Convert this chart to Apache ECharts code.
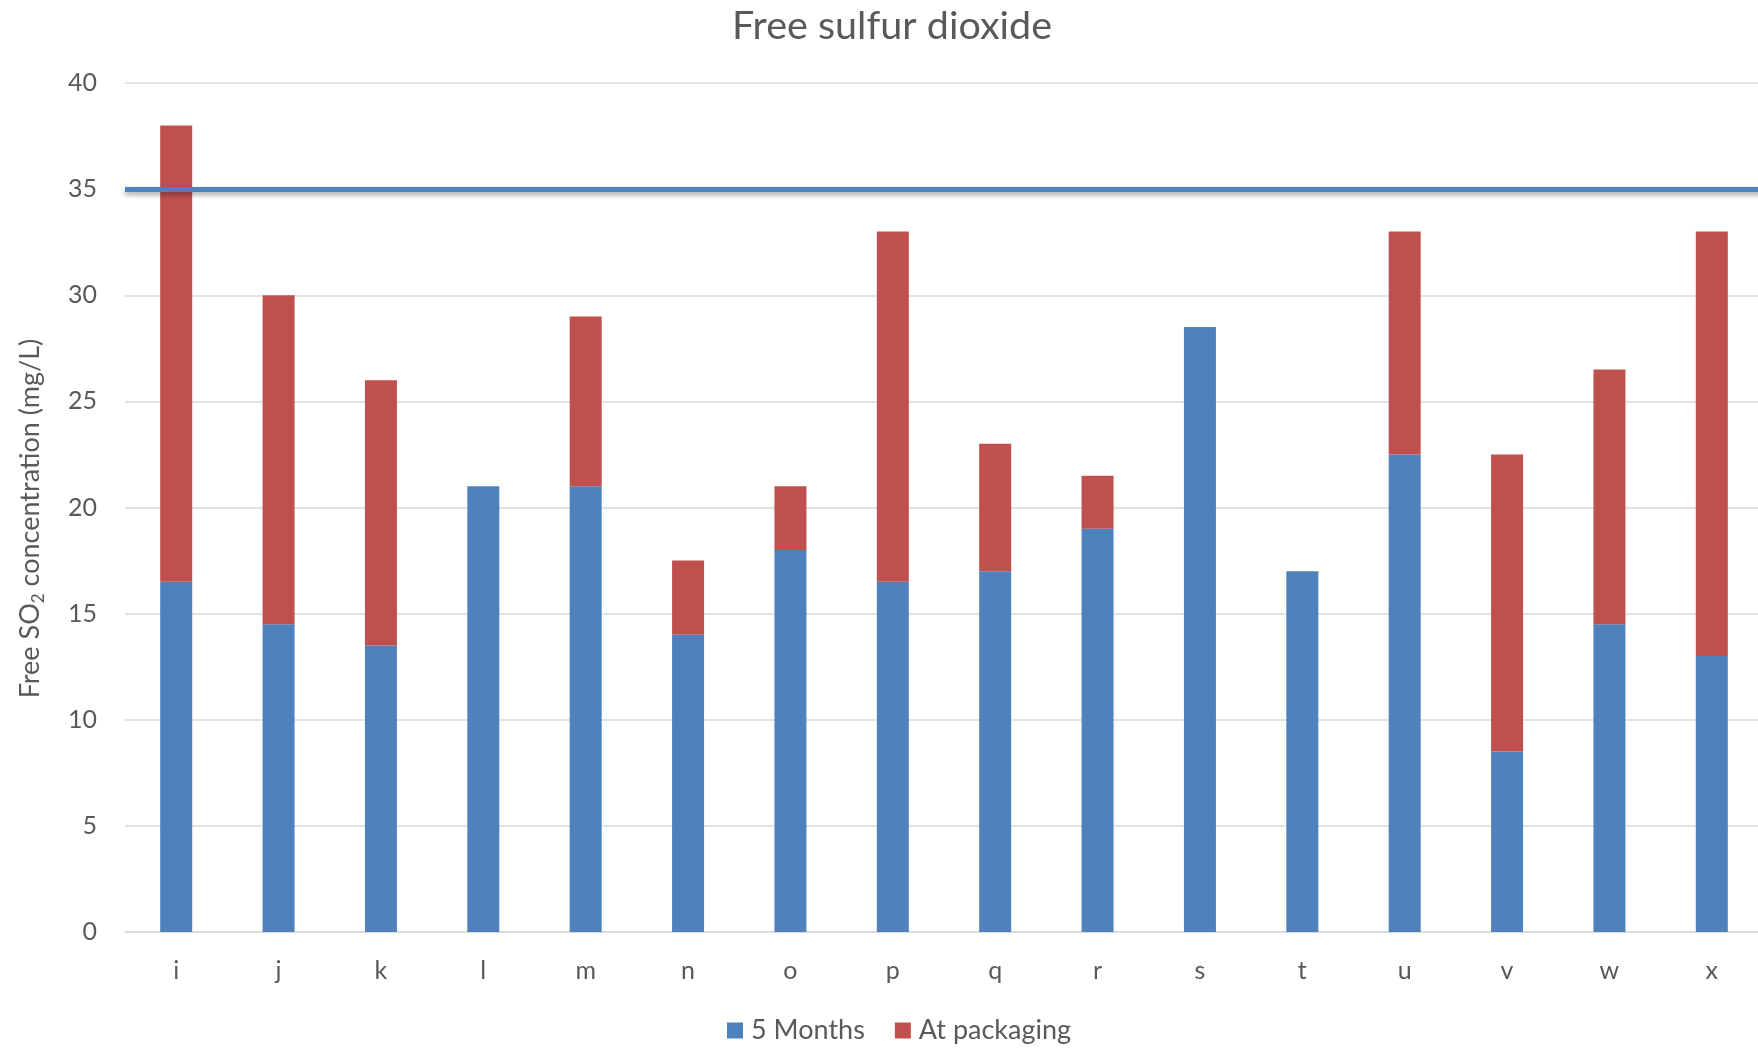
<!DOCTYPE html>
<html>
<head>
<meta charset="utf-8">
<title>Free sulfur dioxide</title>
<script src="https://cdn.jsdelivr.net/npm/echarts@6/dist/echarts.min.js"></script>
<style>
  html, body { margin: 0; padding: 0; background: #ffffff; }
  #chart { width: 1758px; height: 1048px; }
</style>
</head>
<body>
<div id="chart"></div>
<script>
// Wine samples
const categories = ['i', 'j', 'k', 'l', 'm', 'n', 'o', 'p', 'q', 'r', 's', 't', 'u', 'v', 'w', 'x'];
// Free SO2 after 5 months (lower segment, mg/L)
const fiveMonths = [16.5, 14.5, 13.5, 21, 21, 14, 18, 16.5, 17, 19, 28.5, 17, 22.5, 8.5, 14.5, 13];
// Additional free SO2 at packaging (upper segment, mg/L)
const atPackaging = [21.5, 15.5, 12.5, 0, 8, 3.5, 3, 16.5, 6, 2.5, 0, 0, 10.5, 14, 12, 20];
// Reference limit (mg/L)
const limitValue = 35;
// Value axis ticks
const yMin = 0, yMax = 40, yStep = 5;

const FONT = 'Lato, "Open Sans", sans-serif';
const TEXT = '#595959';
const BLUE = '#4F81BD';
const RED = '#C0504D';

const chart = echarts.init(document.getElementById('chart'), null, { renderer: 'canvas' });

chart.setOption({
  animation: false,
  backgroundColor: '#ffffff',
  title: {
    text: 'Free sulfur dioxide',
    left: 887,
    top: 1,
    textAlign: 'center',
    textStyle: { fontFamily: FONT, fontSize: 39.5, fontWeight: 'normal', color: TEXT }
  },
  legend: {
    data: ['5 Months', 'At packaging'],
    left: 722,
    top: 1012,
    itemWidth: 16,
    itemHeight: 16,
    itemGap: 30,
    icon: 'rect',
    textStyle: { fontFamily: FONT, fontSize: 27, color: TEXT, padding: [0, 0, 0, 3] }
  },
  grid: {
    left: 125, right: -5, top: 83, bottom: 116,
    containLabel: false,
    outerBoundsMode: 'none'
  },
  xAxis: {
    type: 'category',
    data: categories,
    axisLine: { show: true, lineStyle: { color: '#D9D9D9', width: 1.5 } },
    axisTick: { show: false },
    axisLabel: { fontFamily: FONT, fontSize: 25, color: TEXT, margin: 26 }
  },
  yAxis: {
    type: 'value',
    min: yMin,
    max: yMax,
    interval: yStep,
    name: '{n|Free SO}{s|2}{n| concentration (mg/L)}',
    nameLocation: 'middle',
    nameGap: 78,
    nameTextStyle: {
      fontFamily: FONT,
      color: TEXT,
      padding: [0, 22, 0, 0],
      rich: {
        n: { fontFamily: FONT, fontSize: 27, color: TEXT, lineHeight: 34 },
        s: { fontFamily: FONT, fontSize: 17, color: TEXT, lineHeight: 34, verticalAlign: 'bottom' }
      }
    },
    axisLine: { show: false },
    axisTick: { show: false },
    axisLabel: { fontFamily: FONT, fontSize: 25, color: TEXT, margin: 28 },
    splitLine: { lineStyle: { color: '#D9D9D9', width: 1.5 } }
  },
  series: [
    {
      name: '5 Months',
      type: 'bar',
      stack: 'so2',
      barWidth: 32,
      data: fiveMonths,
      itemStyle: { color: BLUE },
      markLine: {
        silent: true,
        symbol: 'none',
        label: { show: false },
        z: 10,
        lineStyle: {
          color: BLUE,
          type: 'solid',
          width: 5,
          shadowColor: 'rgba(0,0,0,0.35)',
          shadowBlur: 5,
          shadowOffsetY: 3
        },
        data: [{ yAxis: limitValue }]
      }
    },
    {
      name: 'At packaging',
      type: 'bar',
      stack: 'so2',
      barWidth: 32,
      data: atPackaging,
      itemStyle: { color: RED }
    }
  ]
});
</script>
</body>
</html>
